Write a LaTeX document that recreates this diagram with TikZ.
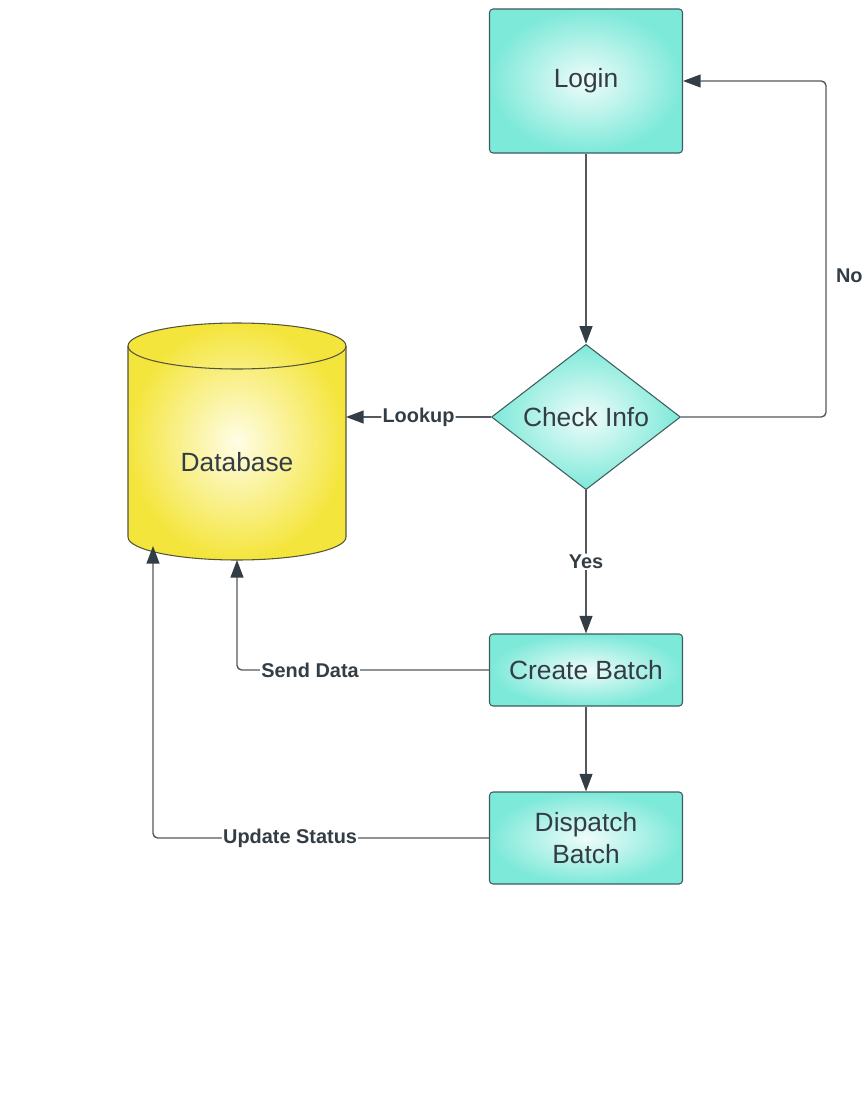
\documentclass[tikz,border=0pt]{standalone}
\usepackage{fontspec}
\setmainfont{Liberation Sans}
\usetikzlibrary{shapes.geometric}
\usetikzlibrary{arrows.meta}
\definecolor{boxteal}{HTML}{7DE9D9}
\definecolor{tealcore}{HTML}{EFFCFA}
\definecolor{boxedge}{HTML}{3E5C5C}
\definecolor{dbyellow}{HTML}{F4E53C}
\definecolor{dbcore}{HTML}{FFFDE6}
\definecolor{dbedge}{HTML}{55553A}
\definecolor{inktext}{HTML}{333D45}
\definecolor{linegray}{HTML}{55595E}
\tikzset{
  process/.style={rectangle, rounded corners=3pt, draw=boxedge, line width=0.9pt,
    shading=radial, inner color=tealcore, outer color=boxteal, text=inktext,
    font=\fontsize{22.5}{27}\selectfont, minimum width=5.79cm, align=center},
  decision/.style={diamond, draw=boxedge, line width=0.9pt, inner sep=0pt,
    shading=radial, inner color=tealcore, outer color=boxteal, text=inktext,
    font=\fontsize{22.5}{27}\selectfont, minimum width=5.67cm, minimum height=4.17cm},
  flow/.style={draw=linegray, line width=1.2pt, rounded corners=4pt,
    -{Triangle[length=15pt, width=11pt, color=inktext]}},
  tag/.style={fill=white, text=inktext, inner sep=1pt,
    font=\bfseries\fontsize{17}{20}\selectfont},
  rim/.style={x radius=3.27cm, y radius=0.69cm}
}

\begin{document}
\begin{tikzpicture}[x=0.03cm, y=-0.03cm]
\useasboundingbox (0,0) rectangle (867,1093);

% database drum
\shade [draw=dbedge, line width=0.9pt, inner color=dbcore, outer color=dbyellow]
  (128,346) -- (128,537) arc [start angle=180, end angle=360, rim]
  -- (346,346) arc [start angle=0, end angle=180, rim] -- cycle;
\draw [dbedge, line width=0.9pt] (128,346) arc [start angle=180, end angle=360, rim];
\coordinate (dbright) at (346,417);
\coordinate (dbbot) at (237,560);
\coordinate (dbbotleft) at (153,546);

\node [process, minimum height=4.32cm] (login) at (586,81) {Login};
\node [decision] (check) at (586,417) {Check Info};
\node [text=inktext, font=\fontsize{22.5}{27}\selectfont] (db) at (237,462) {Database};
\node [process, minimum height=2.16cm] (create) at (586,670) {Create Batch};
\node [process, minimum height=2.76cm] (dispatch) at (586,838) {Dispatch\\Batch};

\coordinate (noturn) at (826,81);

\draw [flow] (login) -- (check);
\draw [flow] (check.east) -| (noturn) node [pos=0.71, right, tag, fill=none, inner sep=8pt] {No} -- (login.east);
\draw [flow] (check.west) -- node [tag] {Lookup} (dbright);
\draw [flow] (check) -- node [tag] {Yes} (create);
\draw [flow] (create) -- (dispatch);
\draw [flow] (create.west) -| node [pos=0.355, tag] {Send Data} (dbbot);
\draw [flow] (dispatch.west) -| node [pos=0.296, tag] {Update Status} (dbbotleft);

\end{tikzpicture}
\end{document}
